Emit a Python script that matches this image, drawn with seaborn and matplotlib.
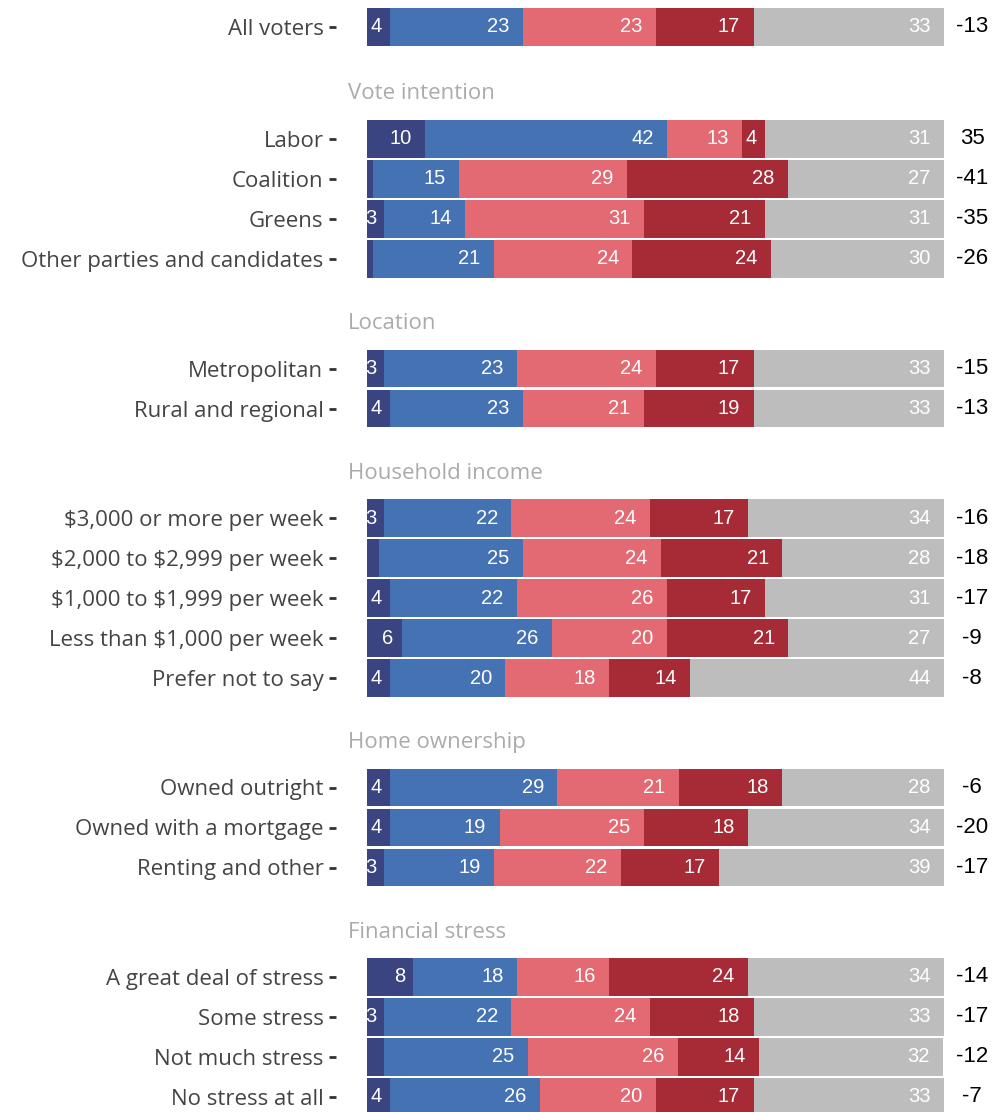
import numpy as np
import pandas as pd
import matplotlib
matplotlib.use("Agg")
import matplotlib.pyplot as plt
import seaborn as sns

# ------------------------------------------
# data (percent of each group)
# ------------------------------------------
sections = ["", "Vote intention", "Location", "Household income",
            "Home ownership", "Financial stress"]

rows = [
    ["All voters"],
    ["Labor", "Coalition", "Greens", "Other parties and candidates"],
    ["Metropolitan", "Rural and regional"],
    ["$3,000 or more per week", "$2,000 to $2,999 per week",
     "$1,000 to $1,999 per week", "Less than $1,000 per week", "Prefer not to say"],
    ["Owned outright", "Owned with a mortgage", "Renting and other"],
    ["A great deal of stress", "Some stress", "Not much stress", "No stress at all"],
]

seg_names = ["Strongly approve", "Approve", "Disapprove", "Strongly disapprove", "Unsure"]

strong_pos = [4, 10, 1, 3, 1, 3, 4, 3, 2, 4, 6, 4, 4, 4, 3, 8, 3, 2.9, 4]
pos_vals = [23, 42, 15, 14, 21, 23, 23, 22, 25, 22, 26, 20, 29, 19, 19, 18, 22, 25, 26]
neg_vals = [23, 13, 29, 31, 24, 24, 21, 24, 24, 26, 20, 18, 21, 25, 22, 16, 24, 26, 20]
strong_neg = [17, 4, 28, 21, 24, 17, 19, 17, 21, 17, 21, 14, 18, 18, 17, 24, 18, 14, 17]
unsure = [33, 31, 27, 31, 30, 33, 33, 34, 28, 31, 27, 44, 28, 34, 39, 34, 33, 32, 33]
net = [-13, 35, -41, -35, -26, -15, -13, -16, -18, -17, -9, -8, -6, -20, -17, -14, -17, -12, -7]

colors = ["#3a4480", "#4472b3", "#e36972", "#a62b37", "#bdbdbd"]

plt.rcParams["text.parse_math"] = False

# ------------------------------------------
# row positions (sections separated by a header gap)
# ------------------------------------------
row_pos, row_lab, head_pos = [], [], []
p = 0.0
for i, sec in enumerate(rows):
    if i > 0:
        first = i == 1
        head_pos.append(p + (1.67 if first else 1.62))
        p += 2.8 if first else 2.7375
    for j, lab in enumerate(sec):
        if j > 0:
            p += 1.0
        row_pos.append(p)
        row_lab.append(lab)

vals = np.array([strong_pos, pos_vals, neg_vals, strong_neg, unsure], dtype=float)
ends = np.cumsum(vals, axis=0)

long = []
for k, s in enumerate(seg_names):
    for r in range(len(row_lab)):
        long.append({"segment": s, "pos": row_pos[r], "value": vals[k, r], "end": ends[k, r]})
df = pd.DataFrame(long)

# ------------------------------------------
# plot
# ------------------------------------------
sns.set_style("white")
W, H = 993, 1112
fig = plt.figure(figsize=(W / 100, H / 100), dpi=100)
x_px0, x_px100, ax_left_px = 367, 944, 336
ppu = (x_px100 - x_px0) / 100.0
xmin = -(x_px0 - ax_left_px) / ppu
ax = fig.add_axes([ax_left_px / W, 0, (x_px100 - ax_left_px) / W, 1])

# layered bars: draw the widest cumulative first
for k in range(len(seg_names) - 1, -1, -1):
    sub = df[df["segment"] == seg_names[k]]
    sns.barplot(data=sub, x="end", y="pos", orient="y", native_scale=True,
                color=colors[k], width=0.93, errorbar=None, linewidth=0,
                saturation=1, ax=ax)

# segment labels (right aligned, a bit inside the segment end)
for _, r in df.iterrows():
    if r["value"] >= 3:
        txt = f"{r['value']:.0f}"
        off = -(3 + 5.2 * len(txt))
        ax.annotate(txt, (r["end"], r["pos"]), xytext=(off, 0), textcoords="offset pixels",
                    ha="right", va="center", color="white", fontsize=14.5,
                    family="Liberation Sans", annotation_clip=False, clip_on=True)

# net values on right
for y, n in zip(row_pos, net):
    ax.text(100 + (972 - x_px100) / ppu, y, f"{n}", ha="center", va="center",
            color="black", fontsize=16, family="Liberation Sans", clip_on=False)

# section headers
for y, sec in zip(head_pos, sections[1:]):
    ax.text((348 - x_px0) / ppu, y, sec, ha="left", va="center", color="#ababab",
            fontsize=16, family="Open Sans")

ax.set_xlim(xmin, 100)
ax.set_ylim((H - 27) / 40.0, -27 / 40.0)
ax.set_yticks(row_pos)
ax.set_yticklabels(row_lab, family="Open Sans", fontsize=16, color="#444444")
ax.set_xticks([])
ax.tick_params(axis="y", length=5, width=2, color="#333333", pad=4, left=True)
ax.set_xlabel("")
ax.set_ylabel("")
for s in ax.spines.values():
    s.set_visible(False)

fig.savefig("out.png", dpi=100)
